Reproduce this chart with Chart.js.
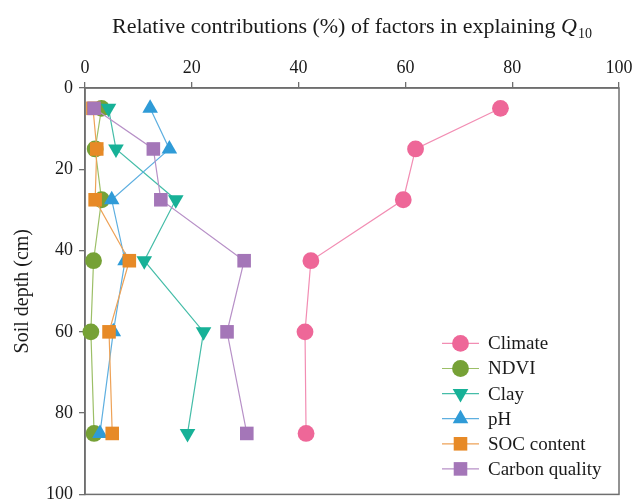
<!DOCTYPE html>
<html>
<head>
<meta charset="utf-8">
<script src="https://cdn.jsdelivr.net/npm/chart.js@4.4.1/dist/chart.umd.min.js"></script>
<style>
  html, body { margin: 0; padding: 0; background: #ffffff; }
  #wrap { width: 637px; height: 504px; }
</style>
</head>
<body>
<div id="wrap"><canvas id="c" width="637" height="504"></canvas></div>
<script>
// Sampling depths (cm) and relative contributions (%) of each factor
const depths = [5, 15, 27.5, 42.5, 60, 85];
const climate = [77.8, 61.9, 59.6, 42.3, 41.2, 41.4];
const ndvi = [3.1, 1.9, 3.1, 1.6, 1.1, 1.7];
const clay = [4.4, 5.8, 17.0, 11.1, 22.2, 19.2];
const ph = [12.2, 15.8, 5.0, 7.5, 5.3, 2.8];
const socContent = [1.5, 2.2, 1.9, 8.3, 4.5, 5.1];
const carbonQuality = [1.7, 12.8, 14.2, 29.8, 26.6, 30.3];

const seriesNames = ['Climate', 'NDVI', 'Clay', 'pH', 'SOC content', 'Carbon quality'];
const xTickValues = [0, 20, 40, 60, 80, 100];
const yTickValues = [0, 20, 40, 60, 80, 100];

const FONT = '"Liberation Serif", "Times New Roman", serif';
const AXIS = '#6f6f6f';
const TEXT = '#1a1a1a';

const styles = [
  { fill: '#ee6798', line: '#f28db3', shape: 'circle', r: 8.4, rot: 0 },
  { fill: '#76a136', line: '#9cbf67', shape: 'circle', r: 8.4, rot: 0 },
  { fill: '#17b197', line: '#45bda8', shape: 'triangle', r: 9, rot: 180 },
  { fill: '#2f9bd7', line: '#5eafe0', shape: 'triangle', r: 9, rot: 0 },
  { fill: '#e78a27', line: '#eea257', shape: 'rect', r: 9.6, rot: 0 },
  { fill: '#a476b8', line: '#b790c7', shape: 'rect', r: 9.6, rot: 0 }
];

const values = [climate, ndvi, clay, ph, socContent, carbonQuality];

const datasets = values.map((vals, i) => ({
  label: seriesNames[i],
  data: vals.map((v, k) => ({ x: v, y: depths[k] })),
  showLine: true,
  borderColor: styles[i].line,
  borderWidth: 1.2,
  backgroundColor: styles[i].fill,
  pointBackgroundColor: styles[i].fill,
  pointBorderColor: styles[i].fill,
  pointBorderWidth: 0,
  pointStyle: styles[i].shape,
  pointRotation: styles[i].rot,
  pointRadius: styles[i].r,
  pointHoverRadius: styles[i].r,
  order: values.length - i,   // later series are painted on top
  clip: false
}));

// Full box around the plotting area
const framePlugin = {
  id: 'frame',
  beforeDatasetsDraw(chart) {
    const { ctx, chartArea: a } = chart;
    ctx.save();
    ctx.strokeStyle = AXIS;
    ctx.lineWidth = 1.5;
    ctx.strokeRect(a.left, a.top, a.right - a.left, a.bottom - a.top);
    ctx.restore();
  }
};

// Title above the top axis, with italic Q and subscript 10
const titlePlugin = {
  id: 'topTitle',
  afterDraw(chart) {
    const { ctx, chartArea: a } = chart;
    const main = 'Relative contributions (%) of factors in explaining ';
    ctx.save();
    ctx.fillStyle = TEXT;
    ctx.textBaseline = 'alphabetic';
    ctx.textAlign = 'left';
    const f1 = '22px ' + FONT, f2 = 'italic 22px ' + FONT, f3 = '14px ' + FONT;
    ctx.font = f1; const w1 = ctx.measureText(main).width;
    ctx.font = f2; const w2 = ctx.measureText('Q').width;
    ctx.font = f3; const w3 = ctx.measureText('10').width;
    const total = w1 + w2 + 1 + w3;
    let x = (a.left + a.right) / 2 - total / 2;
    const base = 33;
    ctx.font = f1; ctx.fillText(main, x, base); x += w1;
    ctx.font = f2; ctx.fillText('Q', x, base); x += w2 + 1;
    ctx.font = f3; ctx.fillText('10', x, base + 4.5);
    ctx.restore();
  }
};

function drawMarker(ctx, st, x, y) {
  ctx.beginPath();
  if (st.shape === 'circle') {
    ctx.arc(x, y, st.r, 0, Math.PI * 2);
  } else if (st.shape === 'rect') {
    const s = st.r * Math.SQRT1_2;
    ctx.rect(x - s, y - s, 2 * s, 2 * s);
  } else {
    const dir = st.rot === 180 ? -1 : 1;
    const h = st.r;
    ctx.moveTo(x, y - dir * h);
    ctx.lineTo(x + h * Math.sqrt(3) / 2, y + dir * h / 2);
    ctx.lineTo(x - h * Math.sqrt(3) / 2, y + dir * h / 2);
    ctx.closePath();
  }
  ctx.fillStyle = st.fill;
  ctx.fill();
}

// Legend inside the lower right of the plotting area
const legendPlugin = {
  id: 'innerLegend',
  afterDraw(chart) {
    const { ctx, chartArea: a } = chart;
    const textX = a.right - 131;
    const y0 = a.bottom - 151;
    const step = 25.1;
    ctx.save();
    ctx.font = '19px ' + FONT;
    ctx.textBaseline = 'middle';
    ctx.textAlign = 'left';
    chart.data.datasets.forEach((ds, i) => {
      const y = y0 + i * step;
      const st = styles[i];
      ctx.strokeStyle = st.line;
      ctx.lineWidth = 1.2;
      ctx.beginPath();
      ctx.moveTo(textX - 46, y);
      ctx.lineTo(textX - 9, y);
      ctx.stroke();
      drawMarker(ctx, st, textX - 27.5, y);
      ctx.fillStyle = TEXT;
      ctx.fillText(ds.label, textX, y + 1);
    });
    ctx.restore();
  }
};

new Chart(document.getElementById('c'), {
  type: 'scatter',
  data: { datasets },
  options: {
    responsive: false,
    animation: false,
    devicePixelRatio: 1,
    layout: { padding: { top: 0, left: 0, right: 18, bottom: 5 } },
    plugins: {
      legend: { display: false },
      title: { display: false },
      tooltip: { enabled: false }
    },
    scales: {
      x: {
        type: 'linear',
        position: 'top',
        min: 0,
        max: 100,
        afterBuildTicks: s => { s.ticks = xTickValues.map(v => ({ value: v })); },
        afterFit: s => { s.height = 88; s.paddingLeft = 0; s.paddingRight = 0; },
        grid: { drawOnChartArea: false, drawTicks: true, tickLength: 6, color: AXIS, lineWidth: 1.3 },
        border: { display: true, color: AXIS, width: 1.5 },
        ticks: { font: { family: FONT, size: 18 }, color: TEXT, padding: 3, maxRotation: 0 }
      },
      y: {
        type: 'linear',
        position: 'left',
        reverse: true,
        min: 0,
        max: 100,
        afterBuildTicks: s => { s.ticks = yTickValues.map(v => ({ value: v })); },
        afterFit: s => { s.width = 85; s.paddingTop = 0; s.paddingBottom = 0; },
        grid: { drawOnChartArea: false, drawTicks: true, tickLength: 6, color: AXIS, lineWidth: 1.3 },
        border: { display: true, color: AXIS, width: 1.5 },
        ticks: { font: { family: FONT, size: 18 }, color: TEXT, padding: 6 },
        title: {
          display: true,
          text: 'Soil depth (cm)',
          font: { family: FONT, size: 20 },
          color: TEXT,
          padding: { top: 11, bottom: 0 }
        }
      }
    }
  },
  plugins: [framePlugin, titlePlugin, legendPlugin]
});
</script>
</body>
</html>
